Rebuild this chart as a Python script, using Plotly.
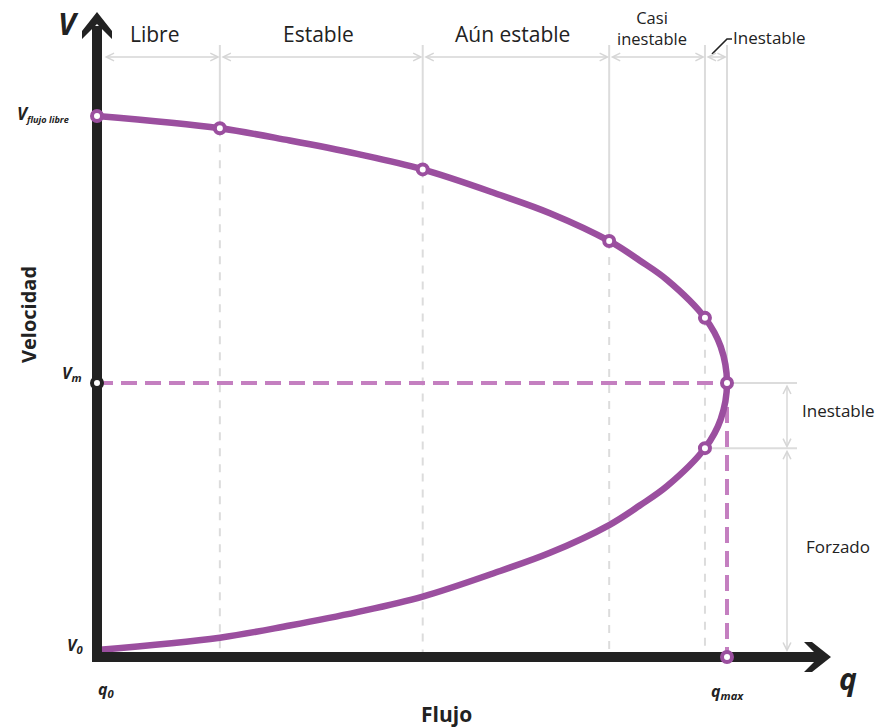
import plotly.graph_objects as go

# ---------------- data (q = % of capacity, V = % of free-flow speed) ----------------
q_upper = [0, 19.5, 30.6, 41.3, 51.7, 64.0, 71.9, 81.3, 86.2, 90.5, 96.5, 99.0, 100]
v_upper = [100, 97.7, 95.4, 92.9, 90.0, 85.2, 81.8, 76.6, 72.9, 69.3, 62.2, 56.8, 50]
q_lower = [99.0, 96.5, 90.5, 86.2, 81.3, 71.9, 64.0, 51.7, 41.3, 30.6, 19.5, 0]
v_lower = [43.2, 37.8, 30.7, 27.1, 23.4, 18.2, 14.8, 10.0, 7.1, 4.6, 2.3, 0]

boundary_q = [0, 19.5, 51.7, 81.3, 96.5, 100]
boundary_v = [100, 97.7, 90.0, 76.6, 62.2, 50]
region_labels = ["Libre", "Estable", "Aún estable", "Casi<br>inestable", "Inestable"]

lower_q = 96.5
lower_v = 37.8
v_m = 50
q_max = 100
right_labels = ["Inestable", "Forzado"]

# ---------------- geometry helpers (decoration only) ----------------
PXQ = 6.3     # pixels per q unit
PXV = 5.34    # pixels per V unit
X0, Y0 = 97, 650   # pixel of origin


def P(x, y):
    """pixel -> data (used for decorations only)"""
    return (x - X0) / PXQ, (Y0 - y) / PXV


V_AXIS = P(0, 657)[1]
V_TOP = P(0, 45)[1]
V_DIM = P(0, 57)[1]
Q_DIM = P(787, 0)[0]
Q_EXT = P(797, 0)[0]

CURVE = "#9b4f9f"
PINK = "#c47fc0"
GRAY = "#dcdcdc"
DARK = "#222222"
FONT = "Open Sans"

fig = go.Figure()
shapes = []
annotations = []

# gray guide lines
for i, (qb, vb) in enumerate(zip(boundary_q, boundary_v)):
    if i == 0:
        continue
    shapes.append(dict(type="line", xref="x", yref="y", x0=qb, x1=qb, y0=V_TOP, y1=vb,
                       line=dict(color=GRAY, width=2), layer="below"))
    if i < len(boundary_q) - 1:
        shapes.append(dict(type="line", xref="x", yref="y", x0=qb, x1=qb, y0=vb, y1=V_AXIS,
                           line=dict(color=GRAY, width=2, dash="8px,8px"), layer="below"))

# right horizontal extension lines
shapes.append(dict(type="line", xref="x", yref="y", x0=q_max, x1=Q_EXT, y0=v_m, y1=v_m,
                   line=dict(color=GRAY, width=2), layer="below"))
shapes.append(dict(type="line", xref="x", yref="y", x0=lower_q, x1=Q_EXT, y0=lower_v, y1=lower_v,
                   line=dict(color=GRAY, width=2), layer="below"))


def dim_arrow(xa, ya, xb, yb):
    annotations.append(dict(x=xb, y=yb, ax=xa, ay=ya, xref="x", yref="y", axref="x", ayref="y",
                            text="", showarrow=True, arrowside="end+start", arrowhead=5,
                            startarrowhead=5, arrowsize=1.1, startarrowsize=1.1, arrowwidth=1.4,
                            arrowcolor="#d6d6d6", standoff=0, startstandoff=0))


# top dimension arrows
starts = [P(103, 0)[0]] + boundary_q[1:-1]
for a, b in zip(starts, boundary_q[1:]):
    dim_arrow(a, V_DIM, b, V_DIM)
# right dimension arrows
dim_arrow(Q_DIM, v_m, Q_DIM, lower_v)
dim_arrow(Q_DIM, lower_v, Q_DIM, P(0, 652)[1])

# pink dashed reference lines
fig.add_trace(go.Scatter(x=[0, q_max], y=[v_m, v_m], mode="lines",
                         line=dict(color=PINK, width=4, dash="16px,8px"), hoverinfo="skip"))
fig.add_trace(go.Scatter(x=[q_max, q_max], y=[v_m, V_AXIS], mode="lines",
                         line=dict(color=PINK, width=4, dash="16px,8px"), hoverinfo="skip"))

# speed-flow curve
fig.add_trace(go.Scatter(x=q_upper + q_lower, y=v_upper + v_lower, mode="lines",
                         line=dict(color=CURVE, width=6.5, shape="spline", smoothing=1.0,
                                   simplify=False),
                         hoverinfo="skip"))

# axes (thick lines)
qa0 = P(92, 0)[0]
qa1 = P(822, 0)[0]
fig.add_trace(go.Scatter(x=[qa0, qa1], y=[V_AXIS, V_AXIS], mode="lines",
                         line=dict(color=DARK, width=10), hoverinfo="skip"))
fig.add_trace(go.Scatter(x=[0, 0], y=[P(0, 662)[1], P(0, 26)[1]], mode="lines",
                         line=dict(color=DARK, width=10), hoverinfo="skip"))


def poly(points):
    pts = [P(x, y) for x, y in points]
    return "M " + " L ".join(f"{a:.3f},{b:.3f}" for a, b in pts) + " Z"


shapes.append(dict(type="path", xref="x", yref="y",
                   path=poly([(97, 12), (112, 31), (112, 39), (97, 24), (82, 39), (82, 31)]),
                   fillcolor=DARK, line=dict(width=0), layer="above"))
shapes.append(dict(type="path", xref="x", yref="y",
                   path=poly([(831, 657), (812, 642), (804, 642), (819, 657), (804, 672), (812, 672)]),
                   fillcolor=DARK, line=dict(width=0), layer="above"))

# leader line for top "Inestable"
l1, l2, l3 = P(712, 54), P(727, 39), P(732, 39)
shapes.append(dict(type="path", xref="x", yref="y",
                   path=f"M {l1[0]},{l1[1]} L {l2[0]},{l2[1]} L {l3[0]},{l3[1]}",
                   line=dict(color=DARK, width=1.6), layer="above"))

# markers
fig.add_trace(go.Scatter(x=boundary_q + [lower_q, q_max], y=boundary_v + [lower_v, V_AXIS],
                         mode="markers",
                         marker=dict(size=10, color="white", line=dict(color=CURVE, width=4)),
                         hoverinfo="skip"))
fig.add_trace(go.Scatter(x=[0], y=[v_m], mode="markers",
                         marker=dict(size=10, color="white", line=dict(color=DARK, width=4)),
                         hoverinfo="skip"))


def txt(text, x, y, size, xanchor="center", yanchor="middle", angle=0, color=DARK):
    annotations.append(dict(text=text, x=x, y=y, xref="x", yref="y", showarrow=False,
                            xanchor=xanchor, yanchor=yanchor, textangle=angle,
                            font=dict(family=FONT, size=size, color=color)))


# region labels (top)
mids = [(a + b) / 2 for a, b in zip(boundary_q[:-1], boundary_q[1:])]
label_y = P(0, 34)[1]
for lab, m in zip(region_labels[:3], mids[:3]):
    txt(lab, m - 0.5, label_y, 21)
txt(region_labels[3], mids[3] - 0.8, P(0, 28)[1], 16.5)
txt(region_labels[4], P(731, 0)[0], P(0, 37)[1], 17, xanchor="left")

# right labels
txt(right_labels[0], P(838, 0)[0], P(0, 410)[1], 17)
txt(right_labels[1], P(838, 0)[0], P(0, 546)[1], 17)

# axis titles
txt("<b>Velocidad</b>", P(28, 0)[0], P(0, 315)[1], 20, angle=-90)
txt("<b>Flujo</b>", P(446, 0)[0], P(0, 714)[1], 21)
txt("<b><i>V</i></b>", P(68, 0)[0], P(0, 23)[1], 30)
txt("<b><i>q</i></b>", P(848, 0)[0], P(0, 678)[1], 30)

# tick-like labels
txt("<b><i><span style='font-size:17px'>V</span><sub>flujo libre</sub></i></b>",
    P(71, 0)[0], P(0, 114)[1], 13, xanchor="right")
txt("<b><i>V<sub>m</sub></i></b>", P(84, 0)[0], P(0, 373)[1], 16, xanchor="right")
txt("<b><i>V<sub>0</sub></i></b>", P(85, 0)[0], P(0, 645)[1], 16, xanchor="right")
txt("<b><i>q<sub>0</sub></i></b>", P(96, 0)[0], P(0, 689)[1], 16, xanchor="left")
txt("<b><i>q<sub>max</sub></i></b>", P(727, 0)[0], P(0, 691)[1], 16)

xr = [P(0, 0)[0], P(878, 0)[0]]
yr = [P(0, 727)[1], P(0, 0)[1]]

fig.update_layout(
    width=878, height=727,
    margin=dict(l=0, r=0, t=0, b=0),
    paper_bgcolor="white", plot_bgcolor="white",
    showlegend=False,
    xaxis=dict(range=xr, visible=False, fixedrange=True),
    yaxis=dict(range=yr, visible=False, fixedrange=True),
    shapes=shapes,
    annotations=annotations,
    font=dict(family=FONT, color=DARK),
)

fig.write_html("out.html", config={"displayModeBar": False},
               post_script="document.body.style.margin='0';document.body.style.overflow='hidden';")
